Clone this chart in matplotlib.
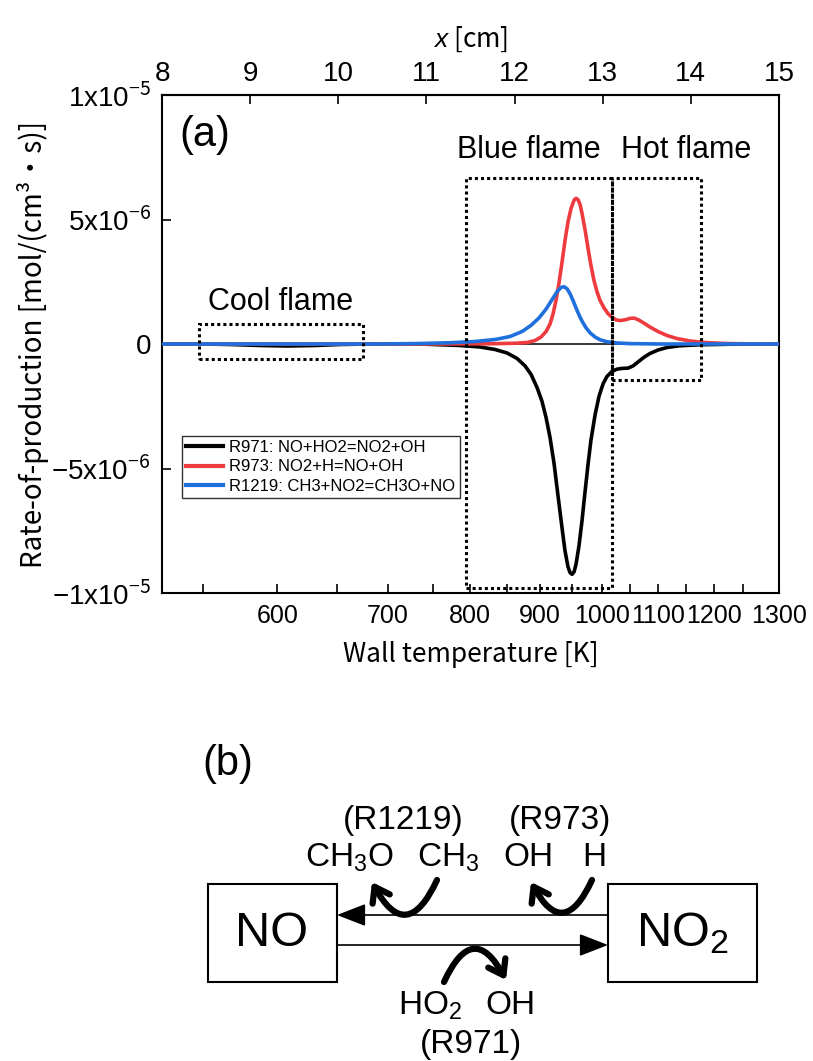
import numpy as np
import matplotlib
matplotlib.use("Agg")
import matplotlib.pyplot as plt
from matplotlib.patches import Rectangle, FancyArrowPatch

plt.rcParams.update({
    "font.family": ["Liberation Sans", "DejaVu Sans"],
    "mathtext.fontset": "custom",
    "mathtext.rm": "Noto Sans CJK JP",
    "mathtext.it": "Liberation Sans:italic",
    "mathtext.sf": "Liberation Sans",
    "axes.linewidth": 1.5,
})
AXIS_FONT = ["Noto Sans CJK JP", "DejaVu Sans"]
TICK_FONT = ["Liberation Sans", "Noto Sans CJK JP", "DejaVu Sans"]

# ---- wall temperature profile along the reactor (for the bottom axis) --------
WALL_T_K = [550, 600, 650, 700, 750, 800, 850, 900, 950, 1000, 1050, 1100, 1150, 1200, 1250, 1300]
WALL_X_CM = [8.47, 9.31, 9.99, 10.56, 11.08, 11.49, 11.91, 12.29, 12.65, 12.99, 13.31, 13.63, 13.95, 14.26, 14.59, 15.0]

# ---- rate of production along x [cm], units of 1e-6 mol/(cm3 s) --------------
R971_X = [8.000, 8.431, 8.772, 9.112, 9.418, 9.736, 10.020, 10.360, 10.927, 11.154, 11.381, 11.608,
          11.778, 11.914, 12.028, 12.119, 12.187, 12.255, 12.311, 12.357, 12.402, 12.448, 12.493,
          12.539, 12.572, 12.606, 12.629, 12.652, 12.675, 12.697, 12.731, 12.765, 12.799, 12.833,
          12.867, 12.913, 12.958, 13.004, 13.049, 13.106, 13.162, 13.219, 13.287, 13.344, 13.401,
          13.469, 13.537, 13.628, 13.730, 13.877, 14.104, 14.444, 15.000]
R971_Y = [0.0, 0.0, -0.02, -0.06, -0.08, -0.06, -0.02, 0.0, 0.0, -0.03, -0.06, -0.12,
          -0.22, -0.36, -0.58, -0.88, -1.22, -1.75, -2.30, -2.95, -3.75, -4.80, -6.10,
          -7.40, -8.30, -8.95, -9.18, -9.25, -9.15, -8.85, -8.10, -7.10, -5.95, -4.85,
          -3.85, -2.85, -2.10, -1.60, -1.30, -1.10, -1.01, -0.98, -0.97, -0.88, -0.72,
          -0.53, -0.38, -0.24, -0.14, -0.07, -0.03, -0.01, 0.0]

R973_X = [8.000, 11.154, 11.722, 12.006, 12.142, 12.233, 12.300, 12.357, 12.402, 12.436, 12.470,
          12.504, 12.539, 12.572, 12.606, 12.641, 12.675, 12.697, 12.720, 12.743, 12.765, 12.799,
          12.833, 12.867, 12.901, 12.935, 12.970, 13.015, 13.060, 13.106, 13.151, 13.196, 13.253,
          13.310, 13.355, 13.401, 13.458, 13.537, 13.628, 13.730, 13.843, 13.991, 14.161, 14.388,
          14.671, 15.000]
R973_Y = [0.0, 0.0, 0.01, 0.03, 0.06, 0.14, 0.28, 0.50, 0.80, 1.20, 1.75,
          2.45, 3.30, 4.15, 4.90, 5.45, 5.78, 5.85, 5.80, 5.60, 5.25, 4.60,
          3.85, 3.15, 2.55, 2.10, 1.75, 1.45, 1.22, 1.07, 0.97, 0.94, 0.97,
          1.03, 1.04, 0.98, 0.86, 0.68, 0.50, 0.34, 0.22, 0.12, 0.06, 0.02,
          0.005, 0.0]

R1219_X = [8.000, 10.474, 10.927, 11.267, 11.551, 11.778, 11.948, 12.085, 12.187, 12.278, 12.357,
           12.425, 12.482, 12.527, 12.561, 12.595, 12.629, 12.663, 12.697, 12.731, 12.765, 12.811,
           12.856, 12.913, 12.970, 13.049, 13.162, 13.310, 13.650, 15.000]
R1219_Y = [0.0, 0.0, 0.02, 0.05, 0.10, 0.18, 0.30, 0.50, 0.75, 1.05, 1.40,
           1.78, 2.10, 2.27, 2.30, 2.22, 2.02, 1.75, 1.45, 1.17, 0.92, 0.65,
           0.45, 0.28, 0.17, 0.09, 0.04, 0.015, 0.0, 0.0]

SERIES = [
    ("R971: NO+HO2=NO2+OH", R971_X, R971_Y, "#000000"),
    ("R973: NO2+H=NO+OH", R973_X, R973_Y, "#ee3b3f"),
    ("R1219: CH3+NO2=CH3O+NO", R1219_X, R1219_Y, "#1f6fdc"),
]

W, H = 813, 1061
fig = plt.figure(figsize=(W / 100, H / 100), dpi=100)

# ============================ (a) rate of production =========================
ax = fig.add_axes([162 / W, 1 - 593 / H, 617 / W, 498 / H])
ax.axhline(0, color="black", lw=1.1, zorder=1)
for name, xs, ys, col in SERIES:
    ax.plot(xs, np.array(ys) * 1e-6, color=col, lw=2.6, label=name, zorder=3,
            solid_joinstyle="round")

ax.set_xlim(8, 15)
ax.set_ylim(-1e-5, 1e-5)

# bottom axis: wall temperature, placed on the x [cm] scale
t_major = [t for t in WALL_T_K if t % 100 == 0]
t_minor = [t for t in WALL_T_K if t % 100 != 0]
ax.set_xticks(np.interp(t_major, WALL_T_K, WALL_X_CM))
ax.set_xticklabels([str(t) for t in t_major], family=TICK_FONT)
ax.set_xticks(np.interp(t_minor, WALL_T_K, WALL_X_CM), minor=True)
ax.tick_params(axis="x", which="both", direction="in", length=6.5, width=1.2,
               labelsize=18, pad=8, top=False)
ax.set_xlabel("Wall temperature [K]", family=AXIS_FONT, fontsize=19, labelpad=9)

ax.set_yticks([-1e-5, -5e-6, 0, 5e-6, 1e-5])
ax.set_yticklabels(["\u22121x10$^{-5}$", "\u22125x10$^{-6}$", "0", "5x10$^{-6}$", "1x10$^{-5}$"],
                   family=TICK_FONT)
ax.tick_params(axis="y", direction="in", length=6.5, width=1.2, labelsize=20, pad=8)
ax.set_ylabel("Rate-of-production [mol/(cm\u00b3\u30fbs)]", family=AXIS_FONT, fontsize=20,
              labelpad=2)

top = ax.secondary_xaxis("top")
top.set_xticks(range(8, 16))
top.set_xticklabels([str(v) for v in range(8, 16)], family=TICK_FONT)
top.tick_params(direction="in", length=6.5, width=1.2, labelsize=20, pad=6)
top.set_xlabel("$\\mathit{x}$ [cm]", family=AXIS_FONT, fontsize=19, labelpad=10)

# dotted regions: cool / blue / hot flame
boxes = [(8.42, -0.6e-6, 10.28, 0.81e-6),
         (11.45, -9.8e-6, 13.105, 6.65e-6),
         (13.105, -1.45e-6, 14.115, 6.65e-6)]
for x0, y0, x1, y1 in boxes:
    ax.add_patch(Rectangle((x0, y0), x1 - x0, y1 - y0, fill=False, ec="black",
                           lw=2.2, ls=(0, (1, 1)), zorder=4))

ax.text(0.07, 0.92, "(a)", transform=ax.transAxes, fontsize=30, ha="center", va="center")
ax.text(12.16, 7.8e-6, "Blue flame", fontsize=22, ha="center", va="center")
ax.text(13.95, 7.8e-6, "Hot flame", fontsize=22, ha="center", va="center")
ax.text(9.35, 1.7e-6, "Cool flame", fontsize=22, ha="center", va="center")

leg = ax.legend(loc="upper left", bbox_to_anchor=(0.032, 0.315), borderaxespad=0,
                fontsize=12, handlelength=2.2, handletextpad=0.4, labelspacing=0.25,
                borderpad=0.25, frameon=True, fancybox=False, edgecolor="black")
leg.get_frame().set_linewidth(1.0)
for line in leg.get_lines():
    line.set_linewidth(3)

# ============================ (b) NO / NO2 cycle ============================
pax = fig.add_axes([0, 0, 1, 1], zorder=-1)
pax.set_xlim(0, W)
pax.set_ylim(H, 0)
pax.axis("off")

pax.text(228, 764, "(b)", fontsize=30, ha="center", va="center")
pax.add_patch(Rectangle((208, 884), 129, 98, fill=False, ec="black", lw=1.5))
pax.add_patch(Rectangle((608, 884), 149, 98, fill=False, ec="black", lw=1.5))
pax.text(272, 933, "NO", fontsize=35, ha="center", va="center")
pax.text(682, 933, "NO$\\mathsf{_2}$", fontsize=35, ha="center", va="center")

for (xa, ya), (xb, yb) in [((608, 915), (337, 915)), ((337, 945), (608, 945))]:
    pax.annotate("", xy=(xb, yb), xytext=(xa, ya),
                 arrowprops=dict(arrowstyle="-|>,head_length=0.9,head_width=0.35",
                                 mutation_scale=20, lw=1.2, color="black",
                                 shrinkA=0, shrinkB=0))

labels_b = [("(R1219)", 403, 820), ("(R973)", 560, 820),
            ("CH$\\mathsf{_3}$O", 349, 858), ("CH$\\mathsf{_3}$", 448, 858),
            ("OH", 528, 858), ("H", 594, 858),
            ("HO$\\mathsf{_2}$", 430, 1006), ("OH", 510, 1006), ("(R971)", 471, 1044)]
for s, x, y in labels_b:
    pax.text(x, y, s, fontsize=24, ha="center", va="center")

for start, end in [((437, 880), (372, 882)), ((592, 880), (531, 882)), ((444, 982), (506, 980))]:
    pax.add_patch(FancyArrowPatch(start, end, connectionstyle="arc3,rad=-1.0",
                                  arrowstyle="->,head_length=0.5,head_width=0.35",
                                  mutation_scale=20, lw=4.5, color="black",
                                  shrinkA=0, shrinkB=0))

fig.savefig("out.png", dpi=100)
